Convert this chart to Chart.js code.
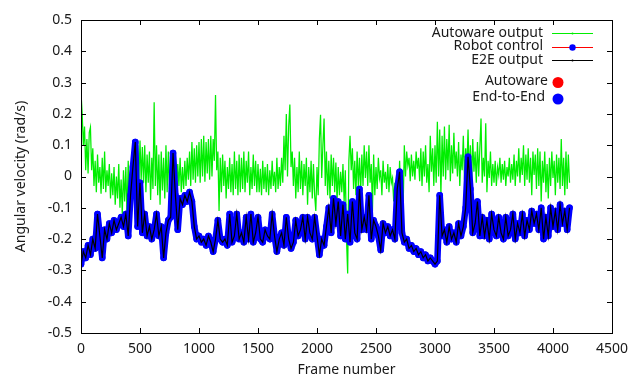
<!DOCTYPE html>
<html>
<head>
<meta charset="utf-8">
<script src="https://cdn.jsdelivr.net/npm/chart.js@4/dist/chart.umd.min.js"></script>
<style>
html,body{margin:0;padding:0;background:#fff;}
canvas{display:block;}
</style>
</head>
<body>
<canvas id="c" width="644" height="376"></canvas>
<script>
// Frame spacing between samples of each series
const GREEN_STEP = 10;
const E2E_STEP = 20;

// Autoware output (green), one value every GREEN_STEP frames
const autowareOutput = [
  0.27, 0.2, 0.1, 0.16, 0.02, 0.12, 0.01, 0.14, 0.157, 0.02,
  0.09, -0.03, 0.05, -0.05, 0.07, -0.02, 0.03, -0.055, 0.06, -0.04,
  0.08, -0.05, 0.02, -0.03, 0.04, -0.07, 0.01, -0.06, 0.03, -0.09,
  0.0, -0.07, 0.04, -0.1, -0.01, -0.12, 0.02, -0.08, 0.03, -0.13,
  0.05, -0.06, 0.02, -0.1, 0.04, -0.055, 0.01, -0.07, 0.1, -0.02,
  0.115, -0.01, 0.094, -0.02, 0.1, -0.05, 0.07, -0.02, 0.08, -0.075,
  0.06, -0.04, 0.237, -0.03, 0.1, -0.06, 0.07, -0.09, 0.08, -0.045,
  0.06, -0.07, 0.1, -0.05, 0.08, -0.04, 0.05, -0.07, 0.04, -0.06,
  0.07, -0.05, 0.04, -0.03, 0.06, -0.05, 0.03, -0.04, 0.05, -0.03,
  0.06, -0.01, 0.08, -0.03, 0.11, -0.01, 0.09, -0.02, 0.1, 0.0,
  0.11, -0.02, 0.12, 0.0, 0.13, -0.017, 0.11, 0.01, 0.12, -0.01,
  0.13, 0.0, 0.12, 0.05, 0.26, 0.02, 0.08, -0.11, 0.06, -0.05,
  0.07, -0.03, 0.05, -0.07, 0.03, -0.04, 0.06, -0.05, 0.04, -0.06,
  0.08, -0.04, 0.05, -0.06, 0.07, -0.05, 0.06, -0.04, 0.08, -0.05,
  0.05, -0.02, 0.08, -0.06, 0.03, -0.04, 0.07, -0.03, 0.05, -0.05,
  0.04, -0.05, 0.025, -0.06, 0.05, -0.04, 0.03, -0.05, 0.04, -0.06,
  0.02, -0.04, 0.05, -0.03, 0.015, -0.05, 0.06, -0.04, 0.03, -0.03,
  0.06, -0.02, 0.13, 0.02, 0.2, 0.0, 0.16, 0.23, 0.03, 0.08,
  -0.03, 0.06, -0.07, 0.03, -0.05, 0.08, -0.04, 0.05, -0.06, 0.04,
  -0.03, 0.06, -0.09, 0.03, -0.05, 0.05, -0.07, 0.04, -0.06, -0.11,
  0.03, -0.06, 0.12, 0.197, -0.005, 0.1, 0.185, -0.03, 0.08, -0.06,
  0.05, -0.07, 0.07, -0.03, 0.06, -0.05, 0.045, -0.08, 0.03, -0.06,
  0.015, -0.05, 0.04, -0.08, 0.02, -0.2, -0.31, 0.05, 0.13, 0.02,
  0.09, -0.04, 0.05, -0.06, 0.08, -0.03, 0.06, -0.05, 0.07, -0.03,
  0.1, -0.005, 0.08, -0.03, 0.1, -0.02, 0.04, -0.11, 0.07, -0.06,
  0.03, -0.04, 0.06, -0.005, 0.02, -0.06, 0.05, -0.02, 0.015, -0.04,
  0.04, -0.05, 0.03, -0.02, -0.005, -0.08, -0.02, -0.1, -0.03, -0.09,
  0.05, -0.07, 0.005, -0.1, 0.1, 0.0, 0.08, 0.035, 0.06, -0.015,
  0.07, 0.0, 0.05, -0.01, 0.08, 0.025, 0.06, -0.015, 0.09, -0.03,
  0.08, 0.0, 0.1, -0.02, 0.04, -0.05, 0.13, 0.015, 0.09, -0.03,
  0.1, -0.02, 0.175, 0.0, 0.15, -0.06, 0.13, 0.0, 0.16, -0.01,
  0.12, 0.02, 0.165, -0.015, 0.1, 0.01, 0.14, 0.025, 0.08, 0.0,
  0.11, -0.03, 0.07, 0.02, 0.13, -0.01, 0.09, 0.025, 0.15, 0.0,
  0.1, -0.03, 0.12, 0.015, 0.08, -0.02, 0.11, 0.0, 0.09, 0.185,
  -0.02, 0.06, 0.0, 0.17, -0.05, 0.05, -0.005, 0.08, -0.03, 0.04,
  -0.02, 0.05, -0.03, 0.03, 0.005, 0.06, -0.02, 0.04, -0.01, 0.05,
  -0.03, 0.03, 0.0, 0.06, -0.02, 0.04, -0.01, 0.07, -0.03, 0.05,
  0.0, 0.09, -0.02, 0.06, 0.005, 0.1, -0.03, 0.07, -0.01, 0.09,
  -0.02, 0.06, -0.06, 0.08, 0.005, 0.07, -0.04, 0.09, -0.03, 0.08,
  -0.08, 0.05, -0.02, 0.08, -0.05, 0.04, -0.07, 0.06, -0.03, 0.08,
  -0.005, 0.05, -0.06, 0.07, -0.02, 0.06, -0.04, 0.12, -0.03, 0.06,
  -0.06, 0.08, -0.04, 0.07, -0.02
];

// E2E output / robot control (black line with blue points), one value every E2E_STEP frames
const e2eOutput = [
  -0.28, -0.24, -0.26, -0.22, -0.25, -0.2, -0.23, -0.12, -0.19, -0.26,
  -0.17, -0.2, -0.15, -0.18, -0.14, -0.17, -0.15, -0.13, -0.16, -0.12,
  -0.19, -0.06, 0.03, 0.11, -0.16, -0.02, -0.18, -0.12, -0.19, -0.16,
  -0.2, -0.17, -0.12, -0.19, -0.16, -0.26, -0.18, -0.14, -0.13, 0.075,
  -0.06, -0.17, -0.07, -0.09, -0.06, -0.08, -0.05, -0.08, -0.16, -0.2,
  -0.19, -0.21, -0.2, -0.22, -0.19, -0.21, -0.24, -0.2, -0.14, -0.2,
  -0.21, -0.2, -0.22, -0.12, -0.21, -0.19, -0.12, -0.2, -0.18, -0.21,
  -0.13, -0.2, -0.12, -0.21, -0.18, -0.13, -0.2, -0.21, -0.17, -0.19,
  -0.2, -0.12, -0.19, -0.24, -0.2, -0.18, -0.22, -0.13, -0.2, -0.23,
  -0.21, -0.14, -0.19, -0.17, -0.13, -0.2, -0.13, -0.18, -0.2, -0.13,
  -0.19, -0.25, -0.2, -0.22, -0.16, -0.1, -0.18, -0.07, -0.15, -0.08,
  -0.19, -0.09, -0.2, -0.12, -0.21, -0.08, -0.18, -0.2, -0.04, -0.17,
  -0.13, -0.17, -0.06, -0.2, -0.14, -0.16, -0.19, -0.235, -0.15, -0.18,
  -0.16, -0.19, -0.17, -0.2, -0.04, 0.015, -0.18, -0.21, -0.2, -0.23,
  -0.22, -0.24, -0.23, -0.25, -0.24, -0.26, -0.25, -0.27, -0.26, -0.27,
  -0.28, -0.27, -0.06, -0.19, -0.17, -0.21, -0.16, -0.2, -0.18, -0.21,
  -0.15, -0.19, -0.16, -0.1, 0.063, -0.04, -0.18, -0.15, -0.08, -0.19,
  -0.13, -0.19, -0.14, -0.2, -0.12, -0.17, -0.19, -0.13, -0.18, -0.2,
  -0.13, -0.19, -0.17, -0.12, -0.2, -0.15, -0.18, -0.12, -0.19, -0.14,
  -0.17, -0.11, -0.15, -0.12, -0.17, -0.1, -0.2, -0.13, -0.19, -0.1,
  -0.16, -0.11, -0.17, -0.09, -0.15, -0.11, -0.17, -0.1
];

const xTicks = [0, 500, 1000, 1500, 2000, 2500, 3000, 3500, 4000, 4500];
const xTickLabels = ['0', '500', '1000', '1500', '2000', '2500', '3000', '3500', '4000', '4500'];
const yTicks = [-0.5, -0.4, -0.3, -0.2, -0.1, 0, 0.1, 0.2, 0.3, 0.4, 0.5];
const yTickLabels = ['-0.5', '-0.4', '-0.3', '-0.2', '-0.1', '0', '0.1', '0.2', '0.3', '0.4', '0.5'];

const lineLegend = ['Autoware output', 'Robot control', 'E2E output'];
const dotLegend = ['Autoware', 'End-to-End'];

const FONT_FAMILY = '"Noto Sans", "DejaVu Sans", sans-serif';
const FONT_SIZE = 14;
const TEXT_COLOR = '#1a1a1a';
const GREEN = '#00ee00';
const RED = '#ff0000';
const BLUE = '#0000ff';

const greenPoints = autowareOutput.map((v, i) => ({ x: i * GREEN_STEP, y: v }));
const e2ePoints = e2eOutput.map((v, i) => ({ x: i * E2E_STEP, y: v }));

const framePlugin = {
  id: 'gnuplotFrame',
  afterDatasetsDraw(chart) {
    const { ctx, chartArea: a, scales } = chart;
    const tl = 5;
    ctx.save();
    ctx.strokeStyle = '#000';
    ctx.lineWidth = 1;
    ctx.beginPath();
    xTicks.forEach(v => {
      const px = Math.round(scales.x.getPixelForValue(v)) + 0.5;
      ctx.moveTo(px, a.bottom); ctx.lineTo(px, a.bottom - tl);
      ctx.moveTo(px, a.top); ctx.lineTo(px, a.top + tl);
    });
    yTicks.forEach(v => {
      const py = Math.round(scales.y.getPixelForValue(v)) + 0.5;
      ctx.moveTo(a.left, py); ctx.lineTo(a.left + tl, py);
      ctx.moveTo(a.right, py); ctx.lineTo(a.right - tl, py);
    });
    ctx.stroke();
    ctx.strokeRect(Math.round(a.left) + 0.5, Math.round(a.top) + 0.5,
                   Math.round(a.right - a.left), Math.round(a.bottom - a.top));
    ctx.restore();
  },
  afterDraw(chart) {
    const { ctx } = chart;
    ctx.save();
    ctx.font = FONT_SIZE + 'px ' + FONT_FAMILY;
    ctx.textAlign = 'right';
    ctx.textBaseline = 'middle';
    const textRight = 543;
    const sx0 = 552, sx1 = 593, sxm = 572.5;
    const rows = [33, 46.5, 60];
    const lineColors = [GREEN, RED, '#000'];
    lineLegend.forEach((t, i) => {
      const y = Math.round(rows[i]) + 0.5;
      ctx.fillStyle = TEXT_COLOR;
      ctx.fillText(t, textRight, rows[i]);
      ctx.strokeStyle = lineColors[i];
      ctx.lineWidth = 1;
      ctx.beginPath();
      ctx.moveTo(sx0, y);
      ctx.lineTo(sx1, y);
      ctx.stroke();
      ctx.beginPath();
      if (i === 1) {
        ctx.fillStyle = BLUE;
        ctx.arc(sxm, y, 3.2, 0, Math.PI * 2);
      } else {
        ctx.fillStyle = lineColors[i];
        ctx.arc(sxm, y, 1, 0, Math.PI * 2);
      }
      ctx.fill();
    });
    const dotRows = [81, 97.5];
    const dotColors = [RED, BLUE];
    const dotRight = [548, 545];
    dotLegend.forEach((t, i) => {
      ctx.fillStyle = TEXT_COLOR;
      ctx.fillText(t, dotRight[i], dotRows[i]);
      ctx.fillStyle = dotColors[i];
      ctx.beginPath();
      ctx.arc(558, dotRows[i] + 1.5, 5.5, 0, Math.PI * 2);
      ctx.fill();
    });
    ctx.restore();
  }
};

const font = { family: FONT_FAMILY, size: FONT_SIZE };

new Chart(document.getElementById('c'), {
  type: 'line',
  data: {
    datasets: [
      {
        label: 'E2E output', data: e2ePoints, borderColor: '#000', borderWidth: 1.2,
        pointRadius: 0, tension: 0, order: 0
      },
      {
        label: 'Robot control', data: e2ePoints, showLine: false,
        pointRadius: 3.3, pointBackgroundColor: BLUE, pointBorderWidth: 0, pointBorderColor: BLUE,
        order: 1
      },
      {
        label: 'Robot control band', data: e2ePoints, borderColor: BLUE, borderWidth: 6.5,
        borderJoinStyle: 'round', borderCapStyle: 'round',
        pointRadius: 0, tension: 0, order: 2
      },
      {
        label: 'Autoware output', data: greenPoints, borderColor: GREEN, borderWidth: 1.25,
        pointRadius: 0, tension: 0, order: 3
      }
    ]
  },
  options: {
    responsive: false,
    animation: false,
    devicePixelRatio: 1,
    layout: { padding: { top: 20, right: 32, left: 0, bottom: 0 } },
    plugins: { legend: { display: false }, tooltip: { enabled: false } },
    scales: {
      x: {
        type: 'linear', min: 0, max: 4500,
        afterBuildTicks: s => { s.ticks = xTicks.map(v => ({ value: v })); },
        afterFit: s => { s.height = 43; },
        ticks: {
          font, color: TEXT_COLOR, padding: 8, maxRotation: 0, autoSkip: false,
          callback: (v, i) => xTickLabels[i]
        },
        grid: { display: false, drawTicks: false },
        border: { display: false },
        title: { display: true, text: 'Frame number', font, color: TEXT_COLOR, padding: { top: 0, bottom: -2 } }
      },
      y: {
        type: 'linear', min: -0.5, max: 0.5,
        afterBuildTicks: s => { s.ticks = yTicks.map(v => ({ value: v })); },
        afterFit: s => { s.width = 81; },
        ticks: {
          font, color: TEXT_COLOR, padding: 9, autoSkip: false,
          callback: (v, i) => yTickLabels[i]
        },
        grid: { display: false, drawTicks: false },
        border: { display: false },
        title: { display: true, text: 'Angular velocity (rad/s)', font, color: TEXT_COLOR, padding: { top: 13, bottom: 0 } }
      }
    }
  },
  plugins: [framePlugin]
});
</script>
</body>
</html>
